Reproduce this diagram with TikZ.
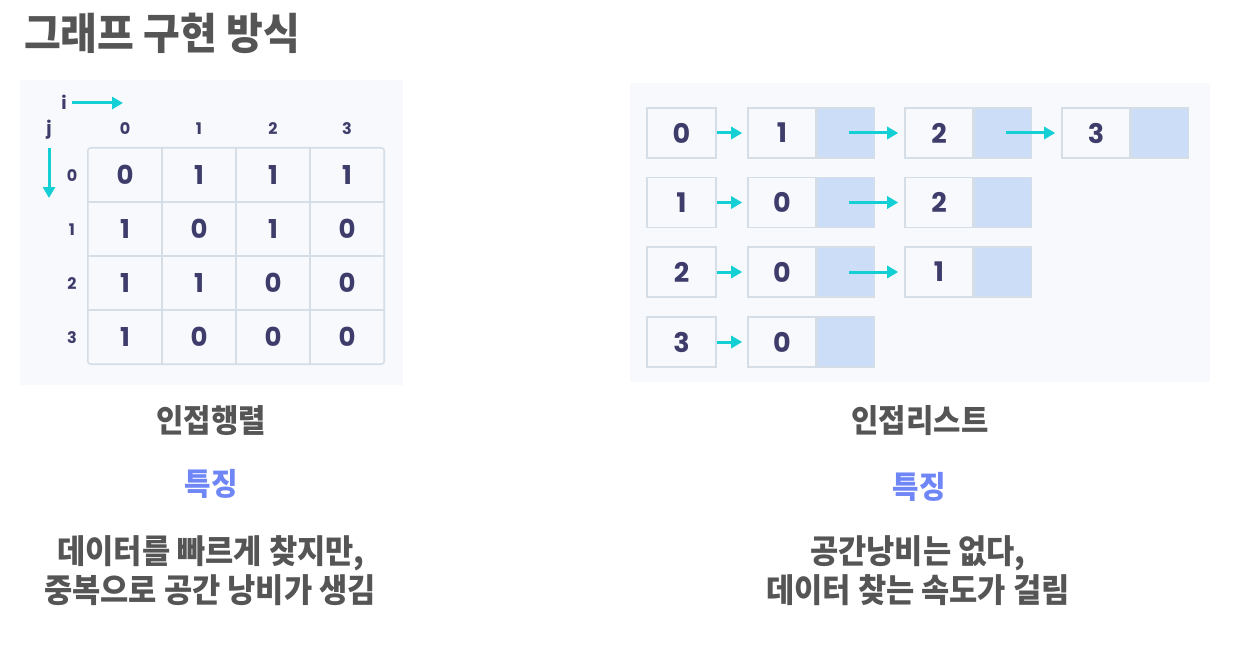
\documentclass[tikz,border=0pt]{standalone}
\usepackage{fontspec}
\usetikzlibrary{arrows.meta}
\newfontfamily\kr{Noto Sans CJK KR}[FakeStretch=0.93]
\newfontfamily\pop{Poppins}
\definecolor{panelbg}{HTML}{F7F9FC}
\definecolor{gridc}{HTML}{D5DDE7}
\definecolor{navy}{HTML}{3E3C6A}
\definecolor{cyanc}{HTML}{14CFD3}
\definecolor{blueb}{HTML}{CBDDF7}
\definecolor{graytxt}{HTML}{555555}
\definecolor{featblue}{HTML}{6F87F6}
\tikzset{
  titletxt/.style={font=\kr\bfseries\fontsize{43}{43}\selectfont, text=graytxt, inner sep=0pt},
  captxt/.style={font=\kr\bfseries\fontsize{32}{32}\selectfont, text=graytxt, inner sep=0pt},
  feattxt/.style={font=\kr\bfseries\fontsize{31}{31}\selectfont, text=featblue, inner sep=0pt},
  bodytxt/.style={font=\kr\bfseries\fontsize{33}{33}\selectfont, text=graytxt, inner sep=0pt},
  cell/.style={minimum width=74pt, minimum height=54pt, inner sep=0pt, font=\pop\bfseries\fontsize{26}{26}\selectfont, text=navy},
  hdr/.style={inner sep=0pt, font=\pop\bfseries\fontsize{16}{16}\selectfont, text=navy},
  axislab/.style={inner sep=0pt, font=\pop\bfseries\fontsize{18}{18}\selectfont, text=navy},
  gridline/.style={draw=gridc, line width=1.6pt},
  carrow/.style={draw=cyanc, line width=3pt, -{Triangle[length=11pt,width=12pt]}},
  headbox/.style={draw=gridc, line width=1.6pt, fill=panelbg, minimum width=69pt, minimum height=50pt, inner sep=0pt, font=\pop\bfseries\fontsize{27}{27}\selectfont, text=navy},
  itembox/.style={draw=gridc, line width=1.6pt, fill=panelbg, minimum width=68pt, minimum height=50pt, inner sep=0pt, font=\pop\bfseries\fontsize{27}{27}\selectfont, text=navy},
  ptrbox/.style={draw=gridc, line width=1.6pt, fill=blueb, minimum width=57pt, minimum height=50pt, inner sep=0pt, anchor=west},
}
\begin{document}
\begin{tikzpicture}[x=1pt,y=-1pt]
\useasboundingbox[fill=white] (0,0) rectangle (1234,658);

% title
\node[titletxt, anchor=west] (title) at (24,33) {그래프 구현 방식};

% panels
\fill[panelbg] (20,80) rectangle (403,385);
\fill[panelbg] (630,83) rectangle (1210,382);

% ---------- adjacency matrix ----------
\foreach \v [count=\c from 0] in {0,1,1,1} \node[cell] (m0\c) at (125+74*\c,175) {\v};
\foreach \v [count=\c from 0] in {1,0,1,0} \node[cell] (m1\c) at (125+74*\c,229) {\v};
\foreach \v [count=\c from 0] in {1,1,0,0} \node[cell] (m2\c) at (125+74*\c,283) {\v};
\foreach \v [count=\c from 0] in {1,0,0,0} \node[cell] (m3\c) at (125+74*\c,337) {\v};

\foreach \c in {0,1,2} \draw[gridline] (m0\c.north east) -- (m3\c.south east);
\foreach \r in {0,1,2} \draw[gridline] (m\r0.south west) -- (m\r3.south east);
\draw[gridline, rounded corners=3pt] (m00.north west) rectangle (m33.south east);

\foreach \c in {0,1,2,3} \node[hdr] (col\c) at (125+74*\c,129) {\c};
\foreach \r in {0,1,2,3} \node[hdr] (row\r) at (72,176+54*\r) {\r};

\node[axislab] (ilab) at (64,102) {i};
\coordinate (iend) at (123,103);
\draw[carrow] (72,103) -- (iend);
\node[axislab] (jlab) at (49,130) {j};
\coordinate (jend) at (49,198);
\draw[carrow] (jlab.south |- 0,148) -- (jend);

% ---------- adjacency list ----------
% row 0
\node[headbox] (h0) at (681.5,133) {0};
\node[itembox] (a01) at (782,133) {1};  \node[ptrbox] (b01) at (a01.east) {};
\node[itembox] (a02) at (939,133) {2};  \node[ptrbox] (b02) at (a02.east) {};
\node[itembox] (a03) at (1096,133) {3}; \node[ptrbox] (b03) at (a03.east) {};
\draw[carrow, shorten >=5pt] (h0.east) -- (a01.west);
\draw[carrow, shorten <=3pt, shorten >=6pt] (b01.center) -- (a02.west);
\draw[carrow, shorten <=3pt, shorten >=6pt] (b02.center) -- (a03.west);
% row 1
\node[headbox] (h1) at (681.5,202.5) {1};
\node[itembox] (a11) at (782,202.5) {0}; \node[ptrbox] (b11) at (a11.east) {};
\node[itembox] (a12) at (939,202.5) {2}; \node[ptrbox] (b12) at (a12.east) {};
\draw[carrow, shorten >=5pt] (h1.east) -- (a11.west);
\draw[carrow, shorten <=3pt, shorten >=6pt] (b11.center) -- (a12.west);
% row 2
\node[headbox] (h2) at (681.5,272) {2};
\node[itembox] (a21) at (782,272) {0}; \node[ptrbox] (b21) at (a21.east) {};
\node[itembox] (a22) at (939,272) {1}; \node[ptrbox] (b22) at (a22.east) {};
\draw[carrow, shorten >=5pt] (h2.east) -- (a21.west);
\draw[carrow, shorten <=3pt, shorten >=6pt] (b21.center) -- (a22.west);
% row 3
\node[headbox] (h3) at (681.5,342) {3};
\node[itembox] (a31) at (782,342) {0}; \node[ptrbox] (b31) at (a31.east) {};
\draw[carrow, shorten >=5pt] (h3.east) -- (a31.west);

% ---------- captions ----------
\node[captxt] (lcap) at (211,421) {인접행렬};
\node[feattxt] (lfeat) at (211,484) {특징};
\node[bodytxt] (ld1) at (211,553) {데이터를 빠르게 찾지만,};
\node[bodytxt] (ld2) at (210,590) {중복으로 공간 낭비가 생김};

\node[captxt] (rcap) at (920,421) {인접리스트};
\node[feattxt] (rfeat) at (919,487) {특징};
\node[bodytxt] (rd1) at (918,553) {공간낭비는 없다,};
\node[bodytxt] (rd2) at (918,590) {데이터 찾는 속도가 걸림};
\end{tikzpicture}
\end{document}
